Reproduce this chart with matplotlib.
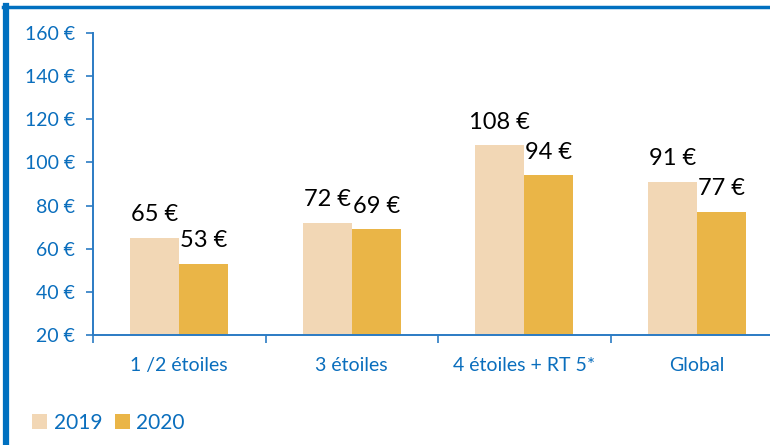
import matplotlib
matplotlib.use("Agg")
import matplotlib.pyplot as plt
from matplotlib.lines import Line2D
import numpy as np

categories = ["1 /2 étoiles", "3 étoiles", "4 étoiles + RT 5*", "Global"]
values_2019 = [65, 72, 108, 91]
values_2020 = [53, 69, 94, 77]
series_names = ["2019", "2020"]
yticks = [20, 40, 60, 80, 100, 120, 140, 160]

blue_txt = "#0A6EBD"
blue_ax = "#2B7BC4"
col_2019 = "#F2D7B5"
col_2020 = "#EAB547"

plt.rcParams["font.family"] = ["Lato", "DejaVu Sans"]

fig = plt.figure(figsize=(7.7, 4.45), dpi=100)
ax = fig.add_axes([93 / 770, 110 / 445, 690 / 770, 302 / 445])

x = np.arange(len(categories))
w = 0.285
b1 = ax.bar(x - w / 2, values_2019, w, color=col_2019, label=series_names[0])
b2 = ax.bar(x + w / 2, values_2020, w, color=col_2020, label=series_names[1])

for bars, vals in ((b1, values_2019), (b2, values_2020)):
    for rect, v in zip(bars, vals):
        ax.annotate(f"{v} €", (rect.get_x() + rect.get_width() / 2, v),
                    xytext=(0, 12), textcoords="offset points",
                    ha="center", va="baseline", fontsize=17, color="black",
                    annotation_clip=False)

ax.set_ylim(20, 160)
ax.set_xlim(-0.5, len(categories) - 0.5)
ax.set_yticks(yticks)
ax.set_yticklabels([f"{t} €" for t in yticks])
ax.tick_params(axis="y", colors=blue_ax, labelcolor=blue_txt, labelsize=14,
               length=5, width=1.2, pad=8, direction="out")

ax.set_xticks(np.arange(len(categories) + 1) - 0.5)
ax.set_xticklabels([])
ax.set_xticks(x, minor=True)
ax.set_xticklabels(categories, minor=True)
ax.tick_params(axis="x", which="major", colors=blue_ax, length=6, width=1.2, direction="out")
ax.tick_params(axis="x", which="minor", length=0, labelcolor=blue_txt, labelsize=14, pad=16)

for s in ("top", "right"):
    ax.spines[s].set_visible(False)
for s in ("left", "bottom"):
    ax.spines[s].set_color(blue_ax)
    ax.spines[s].set_linewidth(1.4)
ax.spines["bottom"].set_zorder(3)

fig.legend(handles=[b1, b2], labels=series_names, loc="lower left",
           bbox_to_anchor=(24 / 770, 4 / 445), ncol=2, frameon=False,
           fontsize=15, labelcolor=blue_txt, handlelength=0.72, handleheight=0.75,
           handletextpad=0.3, columnspacing=0.6, borderaxespad=0)

# frame lines
fig.add_artist(Line2D([5.5 / 770, 5.5 / 770], [0, 439 / 445], color="#0070C0", lw=4.5))
fig.add_artist(Line2D([3 / 770, 1], [438 / 445, 438 / 445], color="#0070C0", lw=2.5))

fig.savefig("out.png", dpi=100)
